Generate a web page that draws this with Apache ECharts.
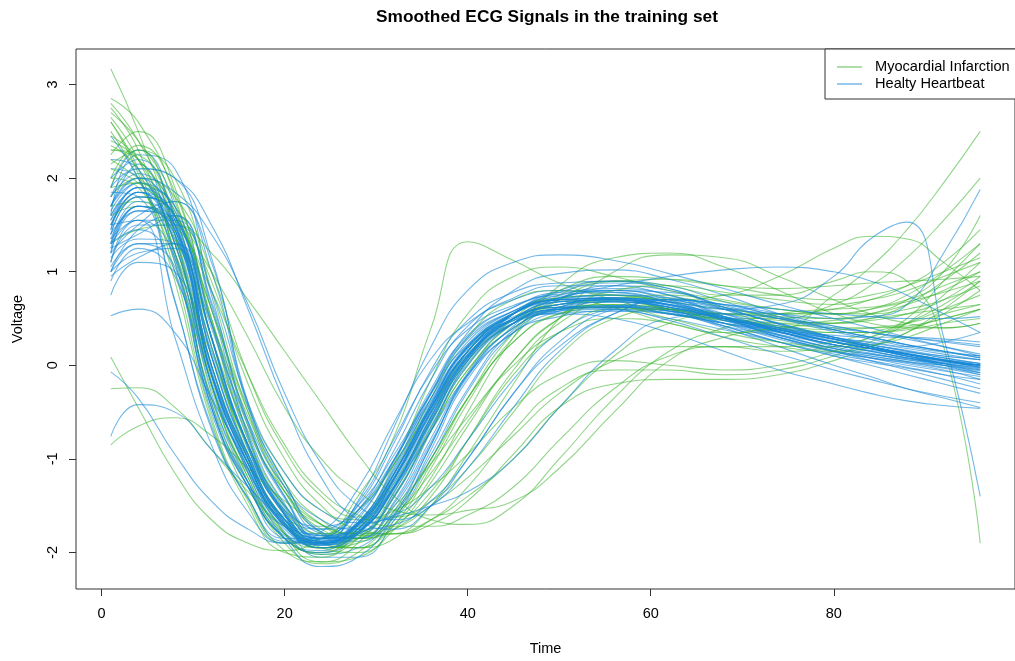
<!DOCTYPE html>
<html><head><meta charset="utf-8">
<script src="https://cdn.jsdelivr.net/npm/echarts@6/dist/echarts.min.js"></script>
<style>html,body{margin:0;padding:0;background:#fff}#c{width:1015px;height:661px}</style>
</head><body><div id="c"></div>
<script>
// sample times (x) shared by every curve
const times = [1,4,8,12,16,20,24,28,32,36,40,45,50,56,62,68,74,80,84,88,92,96];
const xTicks = [0,20,40,60,80];
const yTicks = [-2,-1,0,1,2,3];
const classNames = ['Myocardial Infarction','Healty Heartbeat'];

// Healthy heartbeat curves (blue)
const hb01 = [1.4,1.65,1.45,-0.1,-1.05,-1.7,-1.9,-1.7,-1.15,-0.42,0.2,0.56,0.72,0.75,0.67,0.5,0.32,0.18,0.12,0.07,0.02,-0.03];
const hb02 = [1.2,1.65,1.55,0.3,-0.85,-1.57,-1.9,-1.78,-1.32,-0.6,0.07,0.48,0.65,0.68,0.6,0.42,0.25,0.1,0.03,-0.03,-0.1,-0.15];
const hb03 = [1.7,2.15,1.15,-0.45,-1.3,-1.85,-1.98,-1.65,-1.0,-0.25,0.32,0.62,0.78,0.8,0.7,0.5,0.3,0.16,0.08,0.0,-0.06,-0.12];
const hb04 = [1.0,1.45,1.6,0.65,-0.65,-1.42,-1.84,-1.84,-1.47,-0.78,-0.08,0.45,0.6,0.62,0.58,0.48,0.35,0.22,0.15,0.08,0.03,0.0];
const hb05 = [2.1,2.0,0.7,-0.65,-1.42,-1.88,-1.85,-1.47,-0.78,-0.08,0.38,0.64,0.74,0.72,0.62,0.45,0.28,0.14,0.08,0.03,-0.03,-0.1];
const hb06 = [1.55,1.9,1.5,-0.05,-1.1,-1.78,-2.02,-1.95,-1.55,-0.85,-0.1,0.4,0.58,0.63,0.58,0.45,0.3,0.15,0.08,0.02,-0.05,-0.15];
const hb07 = [1.3,1.6,1.75,1.0,-0.45,-1.3,-1.8,-1.85,-1.45,-0.7,0.05,0.55,0.8,0.9,0.85,0.68,0.52,0.4,0.35,0.3,0.26,0.22];
const hb08 = [0.9,1.25,0.95,-0.35,-1.15,-1.62,-1.75,-1.5,-0.95,-0.3,0.22,0.48,0.56,0.58,0.5,0.38,0.25,0.12,0.05,-0.02,-0.1,-0.2];
const hb09 = [1.6,2.25,2.1,0.75,-0.6,-1.4,-1.82,-1.85,-1.5,-0.82,-0.12,0.42,0.7,0.85,0.8,0.6,0.4,0.26,0.18,0.1,0.04,0.0];
const hb10 = [1.15,1.35,1.3,-0.1,-1.0,-1.65,-1.85,-1.68,-1.12,-0.4,0.22,0.58,0.72,0.72,0.6,0.42,0.25,0.1,0.0,-0.1,-0.2,-0.3];
const hb11 = [1.8,2.1,2.0,1.15,-0.4,-1.25,-1.78,-1.88,-1.62,-1.0,-0.28,0.35,0.62,0.72,0.7,0.52,0.36,0.22,0.16,0.12,0.06,0.02];
const hb12 = [1.35,1.55,1.15,-0.4,-1.25,-1.8,-1.9,-1.72,-1.15,-0.42,0.2,0.52,0.62,0.64,0.58,0.48,0.36,0.25,0.18,0.12,0.06,0.0];
const hb13 = [1.9,2.3,1.7,0.3,-0.88,-1.6,-1.92,-1.8,-1.3,-0.55,0.1,0.55,0.75,0.82,0.75,0.52,0.3,0.15,0.1,0.04,0.0,-0.05];
const hb14 = [0.75,1.1,1.0,-0.1,-0.95,-1.55,-1.72,-1.55,-1.05,-0.38,0.18,0.5,0.62,0.63,0.55,0.45,0.35,0.25,0.2,0.12,0.05,0.0];
const hb15 = [1.5,1.55,0.3,-0.85,-1.57,-1.9,-1.78,-1.32,-0.6,0.07,0.45,0.7,0.8,0.78,0.68,0.52,0.38,0.25,0.18,0.1,0.0,-0.1];
const hb16 = [1.25,1.4,1.6,0.6,-0.75,-1.6,-2.05,-2.05,-1.65,-0.9,-0.15,0.35,0.52,0.58,0.55,0.42,0.3,0.15,0.05,-0.05,-0.15,-0.25];
const hb17 = [1.65,1.95,1.45,-0.1,-1.05,-1.7,-1.88,-1.5,-0.82,-0.05,0.48,0.78,0.88,0.9,0.82,0.62,0.44,0.28,0.2,0.13,0.06,0.0];
const hb18 = [1.45,1.85,1.6,0.28,-0.88,-1.6,-1.88,-1.78,-1.3,-0.58,0.08,0.5,0.68,0.7,0.58,0.4,0.2,0.0,-0.12,-0.25,-0.35,-0.45];
const hb19 = [2.2,2.1,1.1,-0.45,-1.25,-1.72,-1.8,-1.58,-1.0,-0.3,0.28,0.58,0.7,0.72,0.65,0.5,0.36,0.22,0.18,0.14,0.1,0.06];
const hb20 = [1.1,1.55,1.55,0.68,-0.62,-1.4,-1.85,-1.82,-1.35,-0.62,0.05,0.45,0.6,0.62,0.58,0.5,0.38,0.28,0.22,0.16,0.1,0.06];
const hb21 = [1.3,1.7,1.4,-0.1,-1.05,-1.72,-1.9,-1.68,-1.08,-0.3,0.35,0.8,0.98,1.02,0.92,0.75,0.55,0.38,0.3,0.22,0.15,0.1];
const hb22 = [1.0,1.3,1.05,-0.45,-1.3,-1.85,-2.0,-1.8,-1.2,-0.45,0.15,0.5,0.65,0.7,0.65,0.5,0.33,0.18,0.1,0.04,-0.02,-0.08];
const hb23 = [1.7,1.95,1.65,0.3,-0.85,-1.58,-1.88,-1.75,-1.28,-0.55,0.08,0.45,0.58,0.6,0.55,0.45,0.38,0.32,0.3,0.3,0.28,0.25];
const hb24 = [1.05,1.3,1.3,-0.08,-1.0,-1.65,-1.85,-1.7,-1.18,-0.45,0.15,0.55,0.72,0.8,0.72,0.55,0.38,0.25,0.18,0.1,0.02,-0.08];
const hb25 = [1.2,1.5,1.75,1.1,-0.42,-1.25,-1.78,-1.85,-1.58,-0.95,-0.25,0.38,0.62,0.7,0.65,0.52,0.4,0.28,0.2,0.12,0.05,-0.02];
const hb26 = [1.85,1.8,0.68,-0.68,-1.42,-1.85,-1.85,-1.55,-0.9,-0.15,0.42,0.72,0.85,0.85,0.75,0.6,0.45,0.3,0.22,0.15,0.08,0.02];
const hb27 = [1.4,1.8,1.6,0.3,-0.85,-1.58,-1.9,-1.78,-1.3,-0.58,0.08,0.5,0.68,0.72,0.68,0.6,0.55,0.5,0.52,0.65,1.2,1.88];
const hb28 = [1.5,1.85,1.45,-0.1,-1.05,-1.7,-1.9,-1.7,-1.15,-0.42,0.2,0.56,0.7,0.72,0.68,0.6,0.65,0.95,1.35,1.53,0.3,-1.4];
const hb29 = [0.53,0.6,0.35,-0.35,-1.05,-1.65,-1.85,-1.68,-1.15,-0.45,0.15,0.5,0.65,0.7,0.62,0.5,0.38,0.25,0.18,0.1,0.05,0.0];
const hb30 = [-0.07,-0.35,-0.95,-1.45,-1.75,-1.9,-1.85,-1.55,-1.0,-0.35,0.2,0.55,0.68,0.7,0.62,0.5,0.38,0.28,0.2,0.12,0.05,0.0];
const hb31 = [-0.76,-0.42,-0.5,-0.9,-1.3,-1.65,-1.82,-1.7,-1.3,-0.7,-0.1,0.35,0.58,0.68,0.62,0.5,0.4,0.3,0.22,0.15,0.08,0.02];
const hb32 = [2.45,2.0,1.2,-0.2,-1.1,-1.72,-1.92,-1.75,-1.2,-0.45,0.18,0.55,0.7,0.72,0.65,0.52,0.4,0.28,0.2,0.12,0.05,-0.02];
const hb33 = [1.3,1.75,1.5,0.0,-1.0,-1.68,-1.88,-1.7,-1.2,-0.5,0.1,0.5,0.72,0.85,0.95,1.02,1.05,1.0,0.9,0.75,0.55,0.35];
const hb34 = [1.6,1.9,1.3,-0.3,-1.25,-1.85,-1.9,-1.45,-0.65,0.2,0.8,1.1,1.18,1.12,0.98,0.82,0.65,0.5,0.4,0.3,0.2,0.1];
const hb35 = [1.4,1.8,1.6,0.4,-0.6,-1.3,-1.65,-1.75,-1.7,-1.45,-1.0,-0.3,0.2,0.55,0.7,0.65,0.52,0.38,0.3,0.22,0.15,0.08];
const hb36 = [1.1,1.5,1.5,0.8,-0.4,-1.15,-1.55,-1.68,-1.6,-1.3,-0.8,-0.15,0.35,0.62,0.7,0.62,0.5,0.38,0.3,0.22,0.15,0.08];
const hb37 = [1.5,1.85,1.3,-0.2,-1.1,-1.72,-1.9,-1.7,-1.15,-0.45,0.12,0.45,0.55,0.5,0.35,0.15,-0.05,-0.2,-0.3,-0.38,-0.43,-0.46];
const hb38 = [1.25,1.7,1.5,0.1,-0.95,-1.65,-1.92,-1.78,-1.25,-0.52,0.1,0.5,0.62,0.6,0.48,0.3,0.12,-0.05,-0.15,-0.25,-0.33,-0.4];
const hb39 = [1.6,1.9,1.55,0.1,-0.95,-1.65,-1.88,-1.72,-1.2,-0.48,0.15,0.55,0.7,0.75,0.72,0.65,0.6,0.55,0.52,0.5,0.5,0.52];
const hb40 = [1.0,1.2,1.25,0.15,-0.85,-1.55,-1.82,-1.75,-1.3,-0.6,0.05,0.45,0.62,0.68,0.65,0.55,0.42,0.3,0.25,0.2,0.25,0.35];
const hb41 = [1.7,2.0,1.5,-0.1,-1.15,-1.85,-2.15,-2.05,-1.6,-0.85,-0.1,0.4,0.6,0.68,0.62,0.5,0.38,0.25,0.18,0.1,0.02,-0.05];
const hb42 = [1.7,2.0,1.85,1.4,0.65,-0.3,-1.05,-1.5,-1.65,-1.5,-1.1,-0.45,0.15,0.55,0.7,0.65,0.55,0.42,0.35,0.28,0.2,0.12];
const hb43 = [1.35,1.7,1.45,0.2,-0.85,-1.5,-1.75,-1.72,-1.62,-1.5,-1.35,-1.0,-0.45,0.15,0.5,0.55,0.5,0.42,0.35,0.3,0.25,0.2];
const hb44 = [1.2,1.7,1.4,0.0,-1.0,-1.68,-1.9,-1.75,-1.22,-0.5,0.12,0.48,0.6,0.62,0.56,0.45,0.33,0.22,0.15,0.08,0.02,-0.04];
const hb45 = [1.55,1.85,1.35,-0.2,-1.12,-1.75,-1.92,-1.68,-1.1,-0.35,0.25,0.58,0.7,0.7,0.64,0.5,0.36,0.2,0.13,0.06,0.0,-0.06];
const hb46 = [0.95,1.15,1.3,0.45,-0.72,-1.48,-1.85,-1.8,-1.4,-0.68,0.0,0.45,0.65,0.7,0.64,0.48,0.32,0.18,0.12,0.06,0.02,-0.02];
const hb47 = [1.8,2.05,1.6,0.1,-0.98,-1.68,-1.95,-1.8,-1.28,-0.55,0.1,0.55,0.78,0.88,0.82,0.62,0.44,0.3,0.24,0.18,0.12,0.06];
const hb48 = [1.3,1.45,1.0,-0.5,-1.3,-1.82,-1.92,-1.62,-1.02,-0.28,0.3,0.62,0.76,0.78,0.68,0.52,0.36,0.22,0.15,0.08,0.0,-0.08];
const hb49 = [1.45,1.9,1.7,0.45,-0.78,-1.52,-1.86,-1.8,-1.38,-0.66,0.02,0.45,0.6,0.64,0.6,0.5,0.38,0.25,0.18,0.12,0.06,0.0];
const hb50 = [2.0,2.2,1.55,0.0,-1.05,-1.72,-1.95,-1.78,-1.22,-0.48,0.15,0.55,0.72,0.8,0.78,0.64,0.5,0.36,0.28,0.2,0.14,0.1];
const hb51 = [1.9,2.1,2.0,1.5,0.6,-0.4,-1.2,-1.65,-1.75,-1.5,-1.0,-0.3,0.25,0.6,0.68,0.6,0.45,0.3,0.2,0.12,0.05,-0.02];

// Myocardial infarction curves (green)
const mi01 = [2.6,2.1,1.0,-0.55,-1.45,-1.9,-1.85,-1.4,-0.75,0.4,1.32,1.12,0.88,0.7,0.55,0.5,0.45,0.4,0.4,0.42,0.5,0.6];
const mi02 = [2.3,2.2,1.5,0.2,-0.9,-1.6,-1.95,-1.95,-1.7,-1.2,-0.5,0.3,0.85,1.15,1.2,1.05,0.8,0.55,0.45,0.4,0.4,0.45];
const mi03 = [1.9,2.3,2.0,0.8,-0.5,-1.35,-1.8,-1.95,-1.85,-1.5,-0.95,-0.2,0.5,1.0,1.18,1.15,0.95,0.7,0.55,0.45,0.4,0.45];
const mi04 = [2.8,2.4,1.6,0.3,-0.7,-1.35,-1.7,-1.8,-1.8,-1.7,-1.45,-0.95,-0.45,-0.2,-0.15,-0.15,-0.1,0.05,0.2,0.35,0.55,0.8];
const mi05 = [2.2,2.0,1.7,0.9,-0.2,-1.0,-1.5,-1.75,-1.8,-1.65,-1.3,-0.7,-0.25,-0.05,-0.05,-0.1,-0.05,0.1,0.25,0.45,0.75,1.1];
const mi06 = [1.5,1.8,1.6,0.6,-0.45,-1.15,-1.55,-1.65,-1.55,-1.3,-0.95,-0.45,-0.1,0.05,0.0,-0.05,0.0,0.15,0.3,0.5,0.9,1.3];
const mi07 = [1.3,1.45,1.5,1.2,0.7,0.15,-0.4,-0.95,-1.4,-1.65,-1.7,-1.5,-1.0,-0.35,0.15,0.4,0.55,0.6,0.62,0.7,0.85,1.0];
const mi08 = [2.75,2.3,1.2,-0.4,-1.4,-1.98,-2.1,-1.9,-1.4,-0.7,-0.05,0.4,0.6,0.65,0.6,0.55,0.55,0.6,0.7,0.85,1.1,1.45];
const mi09 = [3.17,2.5,1.4,-0.2,-1.25,-1.9,-2.12,-2.0,-1.6,-1.0,-0.35,0.25,0.55,0.62,0.55,0.48,0.45,0.48,0.55,0.7,1.0,1.6];
const mi10 = [2.85,2.6,1.8,0.3,-1.0,-1.8,-2.1,-2.05,-1.7,-1.1,-0.4,0.3,0.7,0.9,0.92,0.85,0.75,0.7,0.75,0.85,1.0,1.15];
const mi11 = [2.45,2.2,1.4,0.0,-1.05,-1.7,-1.95,-1.8,-1.3,-0.55,0.15,0.55,0.7,0.62,0.45,0.35,0.38,0.75,1.05,1.45,1.95,2.5];
const mi12 = [2.3,2.25,1.6,0.2,-0.95,-1.65,-1.95,-1.85,-1.4,-0.7,-0.05,0.45,0.68,0.7,0.6,0.5,0.5,0.65,0.85,1.15,1.55,2.0];
const mi13 = [2.0,2.35,1.85,0.5,-0.75,-1.5,-1.9,-1.95,-1.65,-1.05,-0.35,0.35,0.75,0.9,0.85,0.75,0.75,0.9,1.0,0.9,0.2,-1.9];
const mi14 = [2.5,2.0,1.1,-0.35,-1.3,-1.85,-2.0,-1.75,-1.15,-0.35,0.3,0.7,0.8,0.75,0.7,0.75,0.95,1.25,1.38,1.35,1.1,0.8];
const mi15 = [2.15,2.3,1.4,-0.2,-1.2,-1.85,-2.0,-1.7,-1.05,-0.15,0.55,0.95,1.05,0.95,0.8,0.7,0.6,0.55,0.55,0.6,0.7,0.85];
const mi16 = [2.7,2.4,1.75,0.5,-0.65,-1.35,-1.75,-1.85,-1.75,-1.4,-0.8,-0.05,0.45,0.7,0.75,0.68,0.6,0.55,0.6,0.75,1.0,1.3];
const mi17 = [1.8,2.0,1.8,1.0,-0.1,-0.9,-1.4,-1.62,-1.62,-1.45,-1.1,-0.5,0.1,0.5,0.6,0.55,0.48,0.45,0.5,0.65,0.9,1.2];
const mi18 = [2.35,2.1,1.3,-0.15,-1.15,-1.8,-2.02,-1.85,-1.35,-0.65,0.0,0.5,0.8,0.95,0.92,0.85,0.82,0.85,0.88,0.9,0.92,0.95];
const mi19 = [0.09,-0.45,-1.15,-1.65,-1.9,-1.98,-1.85,-1.55,-1.05,-0.45,0.1,0.5,0.65,0.68,0.6,0.5,0.42,0.38,0.4,0.45,0.55,0.65];
const mi20 = [-0.25,-0.24,-0.45,-0.9,-1.35,-1.72,-1.9,-1.85,-1.55,-1.0,-0.35,0.25,0.55,0.65,0.6,0.5,0.42,0.35,0.35,0.38,0.45,0.5];
const mi21 = [-0.85,-0.65,-0.56,-0.75,-1.1,-1.45,-1.7,-1.8,-1.7,-1.35,-0.8,-0.1,0.35,0.6,0.6,0.5,0.4,0.35,0.35,0.4,0.5,0.6];
const mi22 = [2.6,2.05,0.9,-0.6,-1.5,-2.0,-2.05,-1.75,-1.2,-0.5,0.15,0.55,0.72,0.75,0.68,0.6,0.55,0.55,0.6,0.68,0.78,0.9];
const mi23 = [1.9,1.95,1.2,-0.25,-1.2,-1.8,-1.95,-1.75,-1.25,-0.6,0.05,0.45,0.62,0.62,0.5,0.35,0.25,0.2,0.22,0.3,0.45,0.6];
const mi24 = [2.25,2.5,1.9,0.45,-0.8,-1.55,-1.95,-2.0,-1.75,-1.25,-0.65,0.05,0.5,0.72,0.72,0.62,0.5,0.45,0.48,0.55,0.7,0.95];
const mi25 = [1.6,1.7,1.5,0.8,-0.1,-0.85,-1.35,-1.6,-1.72,-1.72,-1.6,-1.3,-0.8,-0.25,0.1,0.2,0.2,0.25,0.35,0.45,0.6,0.75];
const mi26 = [2.0,1.9,1.2,0.1,-0.85,-1.5,-1.8,-1.78,-1.5,-1.05,-0.55,0.0,0.35,0.5,0.45,0.3,0.2,0.15,0.2,0.35,0.6,0.9];
const mi27 = [2.1,1.95,1.6,1.0,0.3,-0.45,-1.0,-1.35,-1.55,-1.6,-1.55,-1.45,-1.1,-0.5,0.05,0.3,0.4,0.45,0.5,0.55,0.6,0.65];
const mi28 = [2.4,2.2,1.65,0.6,-0.5,-1.25,-1.65,-1.82,-1.8,-1.65,-1.4,-1.0,-0.45,0.1,0.45,0.55,0.52,0.5,0.55,0.65,0.8,1.0];
const mi29 = [1.7,1.75,1.35,0.45,-0.55,-1.3,-1.7,-1.85,-1.75,-1.5,-1.2,-0.75,-0.3,0.05,0.2,0.2,0.15,0.2,0.3,0.45,0.65,0.9];
const mi30 = [2.65,2.2,1.3,0.0,-1.0,-1.65,-1.95,-1.9,-1.6,-1.15,-0.6,0.05,0.5,0.8,0.85,0.78,0.7,0.65,0.7,0.8,0.95,1.1];

const healthy = [hb01,hb02,hb03,hb04,hb05,hb06,hb07,hb08,hb09,hb10,hb11,hb12,hb13,hb14,hb15,hb16,hb17,hb18,hb19,hb20,
  hb21,hb22,hb23,hb24,hb25,hb26,hb27,hb28,hb29,hb30,hb31,hb32,hb33,hb34,hb35,hb36,hb37,hb38,hb39,hb40,
  hb41,hb42,hb43,hb44,hb45,hb46,hb47,hb48,hb49,hb50,hb51];
const infarction = [mi01,mi02,mi03,mi04,mi05,mi06,mi07,mi08,mi09,mi10,mi11,mi12,mi13,mi14,mi15,mi16,mi17,mi18,mi19,mi20,
  mi21,mi22,mi23,mi24,mi25,mi26,mi27,mi28,mi29,mi30];

const GREEN = 'rgba(55,178,42,0.55)';
const BLUE = 'rgba(24,136,214,0.6)';
const FONT = '"Liberation Sans", Arial, Helvetica, sans-serif';

function mk(name, vals, color) {
  return {
    type: 'line', name: name,
    data: times.map(function (t, j) { return [t, vals[j]]; }),
    smooth: 0.5, symbol: 'none', showSymbol: false,
    lineStyle: { color: color, width: 1.1 },
    itemStyle: { color: color },
    emphasis: { disabled: true }, silent: true
  };
}
const series = [];
const n = Math.max(healthy.length, infarction.length);
for (let i = 0; i < n; i++) {
  if (i < healthy.length) series.push(mk(classNames[1], healthy[i], BLUE));
  if (i < infarction.length) series.push(mk(classNames[0], infarction[i], GREEN));
}

const chart = echarts.init(document.getElementById('c'), null, { renderer: 'canvas' });
chart.setOption({
  animation: false,
  backgroundColor: '#fff',
  title: {
    text: 'Smoothed ECG Signals in the training set',
    left: 542, top: 4, textAlign: 'center',
    textStyle: { fontFamily: FONT, fontSize: 17.3, fontWeight: 'bold', color: '#000' }
  },
  grid: { left: 76, top: 49, width: 942, height: 543, show: true, borderColor: '#333', borderWidth: 1, backgroundColor: 'transparent' },
  legend: {
    data: classNames, orient: 'vertical', left: 825, top: 49,
    padding: [10, 10, 7, 12], itemWidth: 25, itemHeight: 1.5, itemGap: 1, icon: 'rect',
    borderColor: '#333', borderWidth: 1, backgroundColor: '#fff', selectedMode: false,
    textStyle: { fontFamily: FONT, fontSize: 14.6, color: '#000', lineHeight: 16, padding: [0, 0, 0, 8] }
  },
  xAxis: {
    type: 'value', min: -2.8, max: 99.8,
    name: 'Time', nameLocation: 'middle', nameGap: 52,
    nameTextStyle: { fontFamily: FONT, fontSize: 14.5, color: '#000' },
    axisLine: { show: false, onZero: false }, splitLine: { show: false },
    axisTick: { show: true, inside: false, length: 7, lineStyle: { color: '#333' }, customValues: xTicks },
    axisLabel: { customValues: xTicks, margin: 17, fontFamily: FONT, fontSize: 14.5, color: '#000' }
  },
  yAxis: {
    type: 'value', min: -2.39, max: 3.38,
    name: 'Voltage', nameLocation: 'middle', nameGap: 51,
    nameTextStyle: { fontFamily: FONT, fontSize: 14.5, color: '#000' },
    axisLine: { show: false, onZero: false }, splitLine: { show: false },
    axisTick: { show: true, inside: false, length: 7, lineStyle: { color: '#333' }, customValues: yTicks },
    axisLabel: { customValues: yTicks, rotate: 90, margin: 16, fontFamily: FONT, fontSize: 14.5, color: '#000' }
  },
  series: series
});
</script>
</body></html>
